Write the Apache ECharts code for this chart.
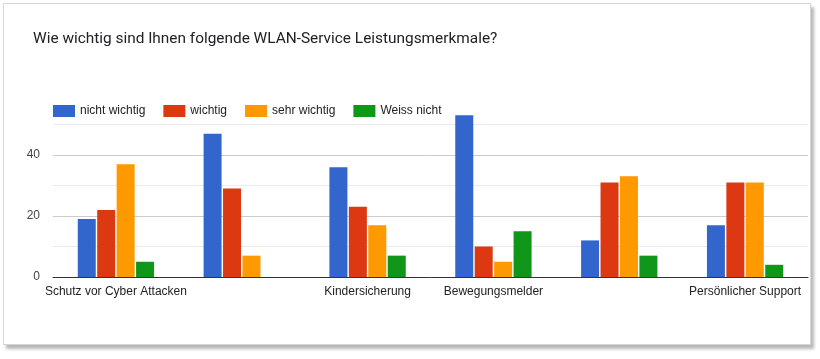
<!DOCTYPE html>
<html>
<head>
<meta charset="utf-8">
<script src="https://cdn.jsdelivr.net/npm/echarts@6/dist/echarts.min.js"></script>
<style>
html,body{margin:0;padding:0;background:#fff;}
#frame{position:absolute;left:3px;top:3px;width:806px;height:340px;border:1px solid #d6d6d6;background:#fff;box-shadow:3px 4px 3px #b8b8b8;}
#chart{position:absolute;left:0;top:0;width:820px;height:359px;}
</style>
</head>
<body>
<div id="frame"></div>
<div id="chart"></div>
<script>
const categories = ['Schutz vor Cyber Attacken', '', 'Kindersicherung', 'Bewegungsmelder', '', 'Persönlicher Support'];
const seriesNames = ['nicht wichtig', 'wichtig', 'sehr wichtig', 'Weiss nicht'];
const nichtWichtig = [19, 47, 36, 53, 12, 17];
const wichtig = [22, 29, 23, 10, 31, 31];
const sehrWichtig = [37, 7, 17, 5, 33, 31];
const weissNicht = [5, 0, 7, 15, 7, 4];
const yTicks = [0, 20, 40];

const colors = ['#3366cc', '#dc3912', '#ff9900', '#109618'];
const values = [nichtWichtig, wichtig, sehrWichtig, weissNicht];

const chart = echarts.init(document.getElementById('chart'), null, {renderer: 'canvas'});
chart.setOption({
  backgroundColor: 'transparent',
  animation: false,
  color: colors,
  title: {
    text: 'Wie wichtig sind Ihnen folgende WLAN-Service Leistungsmerkmale?',
    left: 28, top: 27,
    textStyle: {fontFamily: 'Roboto', fontSize: 15.4, fontWeight: 'normal', color: '#202124'}
  },
  legend: {
    left: 48, top: 100,
    itemWidth: 22, itemHeight: 12, itemGap: 18,
    icon: 'rect',
    data: seriesNames,
    textStyle: {fontFamily: 'Arial', fontSize: 12, color: '#222'}
  },
  grid: {left: 53, right: 12, top: 94, bottom: 82, containLabel: false},
  xAxis: {
    type: 'category',
    data: categories,
    axisLine: {lineStyle: {color: '#333', width: 1}},
    axisTick: {show: false},
    axisLabel: {interval: 0, margin: 9, fontFamily: 'Arial', fontSize: 12, color: '#222'}
  },
  yAxis: {
    type: 'value',
    min: 0, max: 60, interval: 20,
    axisLine: {show: false},
    axisTick: {show: false},
    axisLabel: {
      showMaxLabel: false, margin: 13, fontFamily: 'Arial', fontSize: 12, color: '#444',
      formatter: v => yTicks.includes(v) ? String(v) : ''
    },
    splitLine: {show: true, showMaxLine: false, lineStyle: {color: '#cccccc'}},
    minorTick: {show: false, splitNumber: 2},
    minorSplitLine: {show: true, lineStyle: {color: '#ebebeb'}}
  },
  series: seriesNames.map((n, i) => ({
    name: n, type: 'bar', data: values[i],
    barWidth: 18, barGap: '8%',
    itemStyle: {color: colors[i]}
  }))
});
</script>
</body>
</html>
